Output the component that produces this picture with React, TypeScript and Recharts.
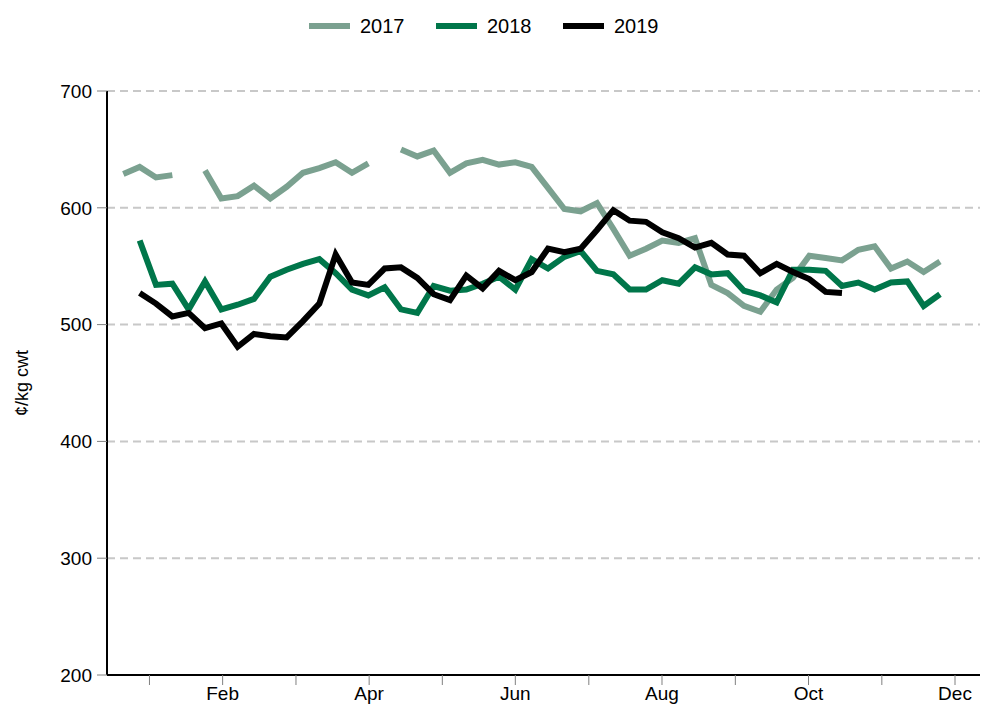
import React from 'react';
import { LineChart, Line, XAxis, YAxis, CartesianGrid, Label } from 'recharts';

const weeks = [0,1,2,3,4,5,6,7,8,9,10,11,12,13,14,15,16,17,18,19,20,21,22,23,24,25,26,27,28,29,30,31,32,33,34,35,36,37,38,39,40,41,42,43,44,45,46,47,48,49,50];

const s2017: (number | null)[] = [629,635,626,628,null,632,608,610,619,608,618,630,634,639,630,638,null,650,644,649,630,638,641,637,639,635,617,599,597,604,582,559,565,572,570,574,534,527,516,511,530,540,559,557,555,564,567,548,554,545,554];
const s2018: (number | null)[] = [null,572,534,535,513,537,513,517,522,541,547,552,556,544,530,525,532,513,510,533,529,530,535,541,530,556,548,558,563,546,543,530,530,538,535,549,543,544,529,525,519,547,547,546,533,536,530,536,537,516,526];
const s2019: (number | null)[] = [null,527,518,507,510,497,501,481,492,490,489,503,518,560,536,534,548,549,540,526,521,542,531,546,538,545,565,562,565,581,598,589,588,579,574,566,570,560,559,544,552,545,539,528,527,null,null,null,null,null,null];

const monthTicks = [1.6,6.08,10.57,15.05,19.53,24.0,28.5,32.98,37.47,41.95,46.44,50.92];
const monthLabels = ['', 'Feb', '', 'Apr', '', 'Jun', '', 'Aug', '', 'Oct', '', 'Dec'];
const yTicks = [200,300,400,500,600,700];

const seriesNames = ['2017', '2018', '2019'];
const seriesColors = ['#7BA190', '#00764A', '#000000'];

const data = weeks.map((w, i) => ({ week: w, y2017: s2017[i], y2018: s2018[i], y2019: s2019[i] }));

const FONT = '"Liberation Sans", Arial, sans-serif';

const YLabel = (props: any) => {
  const vb = props.viewBox || {};
  const cy = (vb.y || 0) + (vb.height || 0) / 2;
  return (
    <text x={22} y={cy} transform={`rotate(-90, 22, ${cy})`} textAnchor="middle" dominantBaseline="central" fontSize={18} fontFamily={FONT} fill="#000">
      ¢/kg cwt
    </text>
  );
};

export default function App() {
  return (
    <div style={{ position: 'absolute', left: 0, top: 0, width: 985, height: 712, background: '#fff', fontFamily: FONT }}>
      <div style={{ position: 'absolute', top: 0, left: 309, height: 52, display: 'flex', alignItems: 'center' }}>
        {seriesNames.map((n, i) => (
          <div key={n} style={{ display: 'flex', alignItems: 'center', marginRight: i < 2 ? 30 : 0 }}>
            <div style={{ width: 41, height: 6, background: seriesColors[i], marginRight: 10 }} />
            <span style={{ fontSize: 20, color: '#000', width: 46, display: 'inline-block' }}>{n}</span>
          </div>
        ))}
      </div>
      <LineChart width={985} height={712} data={data} margin={{ top: 91, right: 5, bottom: 7, left: 0 }}>
        <CartesianGrid vertical={false} stroke="#C8C8C8" strokeWidth={2} strokeDasharray="8 5" horizontalValues={[300,400,500,600,700]} />
        <XAxis
          type="number"
          dataKey="week"
          domain={[-1, 52.45]}
          ticks={monthTicks}
          interval={0}
          tickFormatter={(v: number, idx: number) => monthLabels[idx]}
          tickSize={10}
          tick={{ fontSize: 19, fill: '#000', fontFamily: FONT }}
          tickLine={{ stroke: '#808080', strokeWidth: 1 }}
          axisLine={{ stroke: '#000', strokeWidth: 2 }}
          height={30}
          allowDataOverflow
        />
        <YAxis
          type="number"
          domain={[200, 700]}
          ticks={yTicks}
          interval={0}
          width={107}
          tickSize={10}
          tickMargin={5}
          tick={{ fontSize: 19, fill: '#000', fontFamily: FONT }}
          tickLine={{ stroke: '#808080', strokeWidth: 1 }}
          axisLine={{ stroke: '#000', strokeWidth: 2 }}
        >
          <Label content={<YLabel />} />
        </YAxis>
        <Line type="linear" dataKey="y2017" stroke={seriesColors[0]} strokeWidth={6} dot={false} isAnimationActive={false} connectNulls={false} />
        <Line type="linear" dataKey="y2018" stroke={seriesColors[1]} strokeWidth={6} dot={false} isAnimationActive={false} connectNulls={false} />
        <Line type="linear" dataKey="y2019" stroke={seriesColors[2]} strokeWidth={6} dot={false} isAnimationActive={false} connectNulls={false} />
      </LineChart>
    </div>
  );
}
